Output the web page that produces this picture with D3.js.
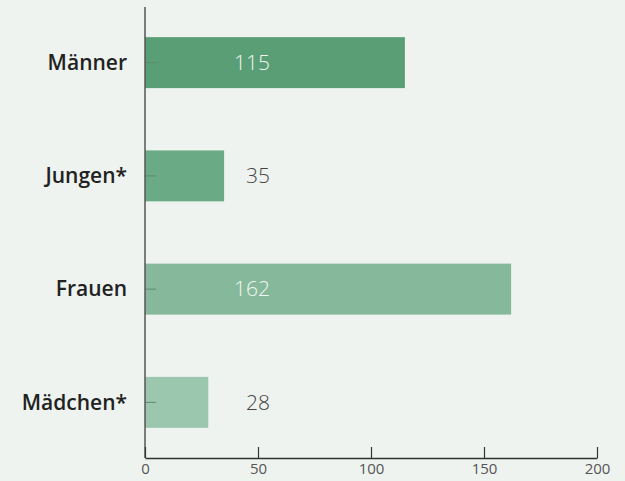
<!DOCTYPE html>
<html><head><meta charset="utf-8">
<script src="https://cdn.jsdelivr.net/npm/d3@7"></script>
<style>
html,body{margin:0;padding:0;background:#eef3ef;}
svg{display:block;font-family:"Open Sans",sans-serif;}
</style></head>
<body>
<svg id="chart" width="625" height="481"></svg>
<script>
const categories = ["Männer", "Jungen*", "Frauen", "Mädchen*"];
const values = [115, 35, 162, 28];
const colors = ["#5a9e75", "#6aab86", "#86b99b", "#9cc7af"];
const xTicks = [0, 50, 100, 150, 200];

const svg = d3.select("#chart");
const x = d3.scaleLinear().domain([0, 200]).range([145, 597]);
const y = d3.scaleBand().domain(categories).range([6, 459]).paddingInner(0.55).paddingOuter(0.275);

svg.append("rect").attr("width", 625).attr("height", 481).attr("fill", "#eef3ef");

// bars
svg.selectAll("rect.bar").data(categories).join("rect")
  .attr("class", "bar")
  .attr("x", x(0))
  .attr("y", d => y(d))
  .attr("width", (d, i) => x(values[i]) - x(0))
  .attr("height", y.bandwidth())
  .attr("fill", (d, i) => colors[i]);

// y ticks (small inward marks)
svg.selectAll("line.ytick").data(categories).join("line")
  .attr("class", "ytick")
  .attr("x1", x(0)).attr("x2", x(0) + 11)
  .attr("y1", d => y(d) + y.bandwidth() / 2)
  .attr("y2", d => y(d) + y.bandwidth() / 2)
  .attr("stroke", "#5b8a6c").attr("stroke-width", 1);

// y axis line
svg.append("line").attr("x1", x(0)).attr("x2", x(0)).attr("y1", 7).attr("y2", 458)
  .attr("stroke", "#555").attr("stroke-width", 1.5);

// category labels
svg.selectAll("text.cat").data(categories).join("text")
  .attr("class", "cat")
  .attr("x", 127)
  .attr("y", d => y(d) + y.bandwidth() / 2)
  .attr("dy", "0.35em")
  .attr("text-anchor", "end")
  .attr("font-size", 21).attr("font-weight", 600)
  .attr("fill", "#222")
  .text(d => d);

// value labels
svg.selectAll("text.val").data(categories).join("text")
  .attr("class", "val")
  .attr("x", 270)
  .attr("y", d => y(d) + y.bandwidth() / 2)
  .attr("dy", "0.35em")
  .attr("text-anchor", "end")
  .attr("font-size", 21).attr("font-weight", 300)
  .attr("fill", (d, i) => x(values[i]) > 270 ? "#f2f7f3" : "#444")
  .text((d, i) => values[i]);

// x axis
const xAxis = d3.axisBottom(x).tickValues(xTicks).tickSize(-11).tickSizeOuter(0).tickPadding(5);
const gx = svg.append("g").attr("transform", "translate(0,458)").call(xAxis);
gx.select(".domain").attr("stroke", "#333").attr("stroke-width", 1.5);
gx.selectAll(".tick line").attr("stroke", "#333").attr("stroke-width", 1.2);
gx.selectAll(".tick text").attr("font-size", 15).attr("fill", "#555")
  .attr("font-family", "Open Sans, sans-serif").attr("font-weight", 400);
</script>
</body></html>
